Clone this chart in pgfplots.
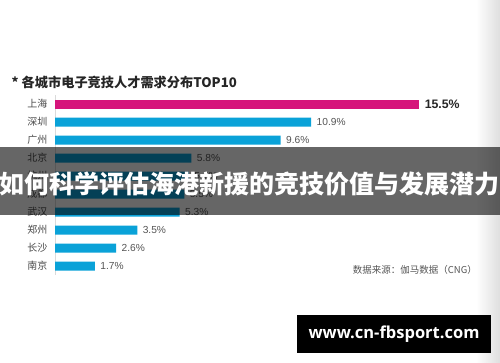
\documentclass[border=0pt]{standalone}
\usepackage{pgfplots}
\pgfplotsset{compat=1.18}
\usepackage{fontspec}
\setmainfont{Liberation Sans}
\newfontfamily\cjk{Noto Sans CJK SC}
\newfontfamily\wmfont{Open Sans}
\definecolor{mag}{HTML}{D6157B}
\definecolor{cblue}{HTML}{0AA2D8}
\definecolor{lblgray}{HTML}{4A4A4A}
\definecolor{valgray}{HTML}{555555}
\definecolor{gridc}{HTML}{DADADA}
\begin{document}
\begin{tikzpicture}[x=1pt,y=1pt]
\fill[white] (0,0) rectangle (500,362);
\useasboundingbox (0,0) rectangle (500,362);
% title
\node[anchor=west,inner sep=0pt,text=black!85] at (11.5,362-82)
  {\cjk\bfseries\fontsize{13.2}{13.2}\selectfont * 各城市电子竞技人才需求分布TOP10};
\begin{axis}[
  at={(55pt,87pt)}, anchor=south west,
  scale only axis, width=423pt, height=180pt,
  xbar, bar width=9pt, bar shift=0pt,
  xmin=0, xmax=18, ymin=-0.5, ymax=9.5,
  y dir=reverse,
  axis x line=none,
  axis y line=left,
  y axis line style={draw=gridc,-},
  ytick={0,...,9},
  yticklabels={上海,深圳,广州,北京,杭州,成都,武汉,郑州,长沙,南京},
  yticklabel style={font=\cjk\fontsize{10}{10}\selectfont, text=lblgray, xshift=-4pt},
  major tick length=0pt,
  xtick={2,4,...,18},
  xmajorgrids, grid style={draw=gridc, dashed},
  clip=false,
  /pgf/number format/assume math mode=true,
  nodes near coords={\pgfmathprintnumber[fixed,fixed zerofill,precision=1,assume math mode=true]{\pgfplotspointmeta}\%},
]
\addplot[draw=none, fill=mag, nodes near coords style={font=\bfseries\fontsize{12.3}{12.3}\selectfont, text=black!85, xshift=2pt}]
  coordinates {(15.5,0)};
\addplot[draw=none, fill=cblue, nodes near coords style={font=\fontsize{10.2}{10.2}\selectfont, text=valgray, xshift=2pt}]
  coordinates {(10.9,1) (9.6,2) (5.8,3) (5.7,4) (5.5,5) (5.3,6) (3.5,7) (2.6,8) (1.7,9)};
\end{axis}
% source
\node[anchor=east,inner sep=0pt,text=valgray] at (477,362-270)
  {\cjk\fontsize{9.5}{9.5}\selectfont 数据来源：伽马数据（CNG）};
% right edge shading
\shade[left color=white, right color=black!14, opacity=0.9] (476,0) rectangle (500,362);
% banner
\fill[black, opacity=0.6] (0,362-215) rectangle (500,362-147);
\node[inner sep=0pt, text=white] at (249.5,362-184)
  {\cjk\bfseries\fontsize{25}{25}\selectfont 如何科学评估海港新援的竞技价值与发展潜力};
% watermark
\fill[black] (297,362-353) rectangle (491,362-315);
\node[inner sep=0pt, text=white] at (394,362-334)
  {\wmfont\bfseries\fontsize{16.5}{16.5}\selectfont www.cn-fbsport.com};
\end{tikzpicture}
\end{document}
